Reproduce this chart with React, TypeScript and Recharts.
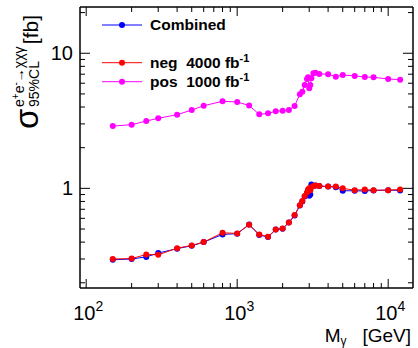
import React from "react";
import { LineChart, Line, XAxis, YAxis, Legend } from "recharts";

// masses in GeV, shared by all three scans
const MASSES = [
  150, 200, 250, 300, 400, 500, 600, 800, 1000, 1200, 1400, 1600, 1800, 2000,
  2200, 2400, 2600, 2700, 2800, 2900, 2950, 3000, 3050, 3100, 3200, 3300, 3500,
  4000, 4500, 5000, 6000, 7000, 8000, 10000, 12000,
];

// 95% CL limits in fb
const COMBINED = [
  0.296, 0.3, 0.311, 0.332, 0.358, 0.376, 0.4, 0.456, 0.462, 0.54, 0.452, 0.436,
  0.495, 0.503, 0.558, 0.63, 0.748, 0.8, 0.87, 0.92, 0.97, 0.88, 0.9, 1.07, 1.04,
  1.05, 1.04, 1.03, 1.02, 0.96, 0.96, 0.955, 0.965, 0.97, 0.965,
];
const NEG_4000 = [
  0.3, 0.302, 0.324, 0.322, 0.361, 0.378, 0.4, 0.469, 0.464, 0.537, 0.456, 0.438,
  0.497, 0.505, 0.56, 0.634, 0.751, 0.805, 0.877, 0.93, 0.98, 1.0, 0.97, 1.02,
  1.04, 1.05, 1.04, 1.03, 1.03, 1.0, 0.97, 0.98, 0.97, 0.97, 0.98,
];
const POS_1000 = [
  2.89, 2.96, 3.15, 3.3, 3.51, 3.8, 4.09, 4.41, 4.36, 4.1, 3.53, 3.59, 3.72, 3.76,
  3.8, 4.07, 4.97, 5.2, 5.82, 6.45, 6.64, 5.5, 5.82, 6.53, 7.11, 7.18, 7.03, 6.99,
  6.71, 6.91, 6.8, 6.67, 6.64, 6.45, 6.38,
];

const X_TICKS = [
  100, 200, 300, 400, 500, 600, 700, 800, 900, 1000, 2000, 3000, 4000, 5000,
  6000, 7000, 8000, 9000, 10000,
];
const Y_TICKS = [
  0.2, 0.3, 0.4, 0.5, 0.6, 0.7, 0.8, 0.9, 1, 2, 3, 4, 5, 6, 7, 8, 9, 10, 20,
];

const X_DOMAIN = [91, 14600];
const Y_DOMAIN = [0.183, 22];

const FONT = "'Liberation Sans', Arial, Helvetica, sans-serif";

const data = MASSES.map((m, i) => ({
  m,
  combined: COMBINED[i],
  neg: NEG_4000[i],
  pos: POS_1000[i],
}));

const isDecade = (v: number) => {
  const l = Math.log10(v);
  return Math.abs(l - Math.round(l)) < 1e-6;
};

function XTick({ x, y, payload, top }: any) {
  const v = payload.value;
  const major = isDecade(v);
  const len = major ? 9 : 5;
  const e = Math.round(Math.log10(v));
  return (
    <g>
      <line
        x1={x}
        x2={x}
        y1={y}
        y2={top ? y + len : y - len}
        stroke="#000"
        strokeWidth={1}
      />
      {!top && major && (
        <text
          x={x + 2}
          y={y + 32}
          textAnchor="middle"
          fontSize={20}
          fontFamily={FONT}
          fill="#000"
        >
          10
          <tspan dy={-9} fontSize={14}>
            {e}
          </tspan>
        </text>
      )}
    </g>
  );
}

function YTick({ x, y, payload, right }: any) {
  const v = payload.value;
  const major = isDecade(v);
  const len = major ? 10 : 5;
  return (
    <g>
      <line
        x1={x}
        x2={right ? x - len : x + len}
        y1={y}
        y2={y}
        stroke="#000"
        strokeWidth={1}
      />
      {!right && major && (
        <text
          x={x - 7}
          y={y}
          dy="0.35em"
          textAnchor="end"
          fontSize={20}
          fontFamily={FONT}
          fill="#000"
        >
          {v >= 10 ? "10" : "1"}
        </text>
      )}
    </g>
  );
}

function XTitle() {
  return (
    <text
      x={411}
      y={342}
      textAnchor="end"
      fontSize={19}
      fontFamily={FONT}
      fill="#000"
    >
      M
      <tspan dy={3} fontSize={12}>
        γ
      </tspan>
      <tspan dy={-3}>{"\u00a0\u00a0\u00a0[GeV]"}</tspan>
    </text>
  );
}

function YTitle() {
  return (
    <g transform="translate(38,129) rotate(-90)" fontFamily={FONT} fill="#000">
      <text x={0} y={0} fontSize={33}>
        σ
      </text>
      <text x={22} y={-14} fontSize={14}>
        e
        <tspan dy={-5} fontSize={10}>
          +
        </tspan>
        <tspan dy={5}>e</tspan>
        <tspan dy={-5} fontSize={10}>
          -
        </tspan>
        <tspan dy={5}>→χχγ</tspan>
      </text>
      <text x={22} y={1} fontSize={14}>
        95%CL
      </text>
      <text x={114} y={0} fontSize={21} textAnchor="end">
        [fb]
      </text>
    </g>
  );
}

const LEGEND_Y = [25, 62.7, 81.7];

function LegendBox({ payload }: any) {
  return (
    <svg width={418} height={100} style={{ display: "block" }}>
      {(payload || []).map((p: any, i: number) => (
        <g key={p.value}>
          <line
            x1={102}
            x2={142}
            y1={LEGEND_Y[i]}
            y2={LEGEND_Y[i]}
            stroke={p.color}
            strokeWidth={1}
          />
          <circle cx={122} cy={LEGEND_Y[i]} r={3} fill={p.color} />
          <text
            x={150}
            y={LEGEND_Y[i] + 5}
            fontSize={15.5}
            fontWeight="bold"
            fontFamily={FONT}
            fill="#000"
            xmlSpace="preserve"
          >
            {p.value === "Combined" ? (
              "Combined"
            ) : (
              <>
                {p.value === "neg" ? "neg  4000 fb" : "pos  1000 fb"}
                <tspan dy={-6} fontSize={11}>
                  -1
                </tspan>
              </>
            )}
          </text>
        </g>
      ))}
    </svg>
  );
}

const axisLine = { stroke: "#000", strokeWidth: 1.5 };

export default function App() {
  return (
    <div
      style={{
        position: "absolute",
        left: 0,
        top: 0,
        width: 418,
        height: 348,
        background: "#fff",
      }}
    >
      <LineChart
        width={418}
        height={348}
        data={data}
        margin={{ top: 6, right: 4, bottom: 59, left: 79 }}
      >
        <XAxis
          dataKey="m"
          type="number"
          scale="log"
          domain={X_DOMAIN}
          allowDataOverflow
          ticks={X_TICKS}
          interval={0}
          height={1}
          tickSize={0}
          tickMargin={0}
          axisLine={axisLine}
          tickLine={false}
          tick={<XTick />}
          label={<XTitle />}
        />
        <XAxis
          xAxisId="top"
          orientation="top"
          dataKey="m"
          type="number"
          scale="log"
          domain={X_DOMAIN}
          allowDataOverflow
          ticks={X_TICKS}
          interval={0}
          height={1}
          tickSize={0}
          tickMargin={0}
          axisLine={axisLine}
          tickLine={false}
          tick={<XTick top />}
        />
        <YAxis
          type="number"
          scale="log"
          domain={Y_DOMAIN}
          allowDataOverflow
          ticks={Y_TICKS}
          interval={0}
          width={1}
          tickSize={0}
          tickMargin={0}
          axisLine={axisLine}
          tickLine={false}
          tick={<YTick />}
          label={<YTitle />}
        />
        <YAxis
          yAxisId="right"
          orientation="right"
          type="number"
          scale="log"
          domain={Y_DOMAIN}
          allowDataOverflow
          ticks={Y_TICKS}
          interval={0}
          width={1}
          tickSize={0}
          tickMargin={0}
          axisLine={axisLine}
          tickLine={false}
          tick={<YTick right />}
        />
        <Legend
          layout="vertical"
          align="center"
          verticalAlign="middle"
          wrapperStyle={{ left: 0, top: 0, width: 418, height: 100 }}
          content={<LegendBox />}
        />
        <Line
          dataKey="combined"
          name="Combined"
          stroke="#0000ff"
          strokeWidth={1}
          dot={{ r: 3, fill: "#0000ff", stroke: "none" }}
          activeDot={false}
          isAnimationActive={false}
        />
        <Line
          dataKey="neg"
          name="neg"
          stroke="#ff0000"
          strokeWidth={1}
          dot={{ r: 3, fill: "#ff0000", stroke: "none" }}
          activeDot={false}
          isAnimationActive={false}
        />
        <Line
          dataKey="pos"
          name="pos"
          stroke="#ff00ff"
          strokeWidth={1}
          dot={{ r: 3, fill: "#ff00ff", stroke: "none" }}
          activeDot={false}
          isAnimationActive={false}
        />
      </LineChart>
    </div>
  );
}
